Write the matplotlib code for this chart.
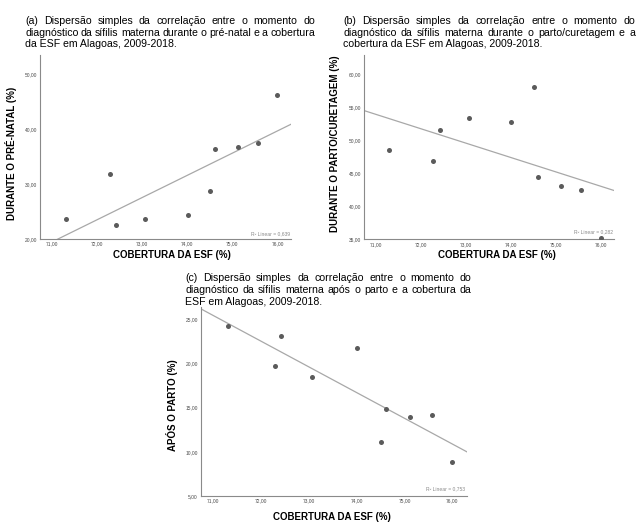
import numpy as np
import matplotlib
matplotlib.use('Agg')
import matplotlib.pyplot as plt
import matplotlib.ticker as ticker

plt.rcParams['font.family'] = ['Liberation Sans', 'DejaVu Sans']

# cobertura da ESF (%) por ano, 2009-2018
cobertura = [71.30, 72.28, 72.42, 73.07, 74.01, 74.51, 74.61, 75.12, 75.57, 76.00]
pre_natal = [23.6, 31.8, 22.5, 23.6, 24.4, 28.7, 36.4, 36.8, 37.5, 46.2]
parto_curetagem = [48.5, 46.9, 51.6, 53.4, 52.7, 58.0, 44.5, 43.1, 42.4, 35.15]
apos_parto = [24.2, 19.7, 23.1, 18.5, 21.8, 11.1, 14.85, 14.0, 14.2, 8.8]

r2_labels = ['R² Linear = 0,639', 'R² Linear = 0,282', 'R² Linear = 0,753']
y_labels = ['DURANTE O PRÉ-NATAL (%)', 'DURANTE O PARTO/CURETAGEM (%)', 'APÓS O PARTO (%)']
x_label = 'COBERTURA DA ESF (%)'

titles = [
    ["(a) Dispersão simples da correlação entre o momento do",
     "diagnóstico da sífilis materna durante o pré-natal e a cobertura",
     "da ESF em Alagoas, 2009-2018."],
    ["(b) Dispersão simples da correlação entre o momento do",
     "diagnóstico da sífilis materna durante o parto/curetagem e a",
     "cobertura da ESF em Alagoas, 2009-2018."],
    ["(c) Dispersão simples da correlação entre o momento do",
     "diagnóstico da sífilis materna após o parto e a cobertura da",
     "ESF em Alagoas, 2009-2018."],
]

W, H = 640, 525
fig = plt.figure(figsize=(W / 100, H / 100), dpi=100)
renderer = fig.canvas.get_renderer()


def justified(lines, x0, x1, y0, step, size=7.6):
    for i, line in enumerate(lines):
        y = 1 - (y0 + i * step) / H
        words = line.split(' ')
        if i == len(lines) - 1:
            fig.text(x0 / W, y, line, fontsize=size, va='center', ha='left')
            continue
        objs = [fig.text(0, y, w, fontsize=size, va='center', ha='left') for w in words]
        widths = [t.get_window_extent(renderer).width for t in objs]
        gap = (x1 - x0 - sum(widths)) / (len(words) - 1)
        x = x0
        for t, w in zip(objs, widths):
            t.set_x(x / W)
            x += w + gap


# pixel boxes: left, right, top, bottom
boxes = [(40, 291, 55, 239), (363.7, 614.3, 55, 239.3), (200.5, 466.7, 307, 496)]
ylims = [(20, 53.5), (35, 62.9), (5, 26.4)]
yticks = [[20, 30, 40, 50], [35, 40, 45, 50, 55, 60], [5, 10, 15, 20, 25]]
series = [pre_natal, parto_curetagem, apos_parto]
xlab_pos = [(0.526, -0.087), (0.532, -0.087), (0.493, -0.11)]
ylab_pos = [(-0.1155, 0.467), (-0.1145, 0.517), (-0.107, 0.481)]
r2_y = [5, 7.5, 7]

fmt = ticker.FuncFormatter(lambda v, p: f'{v:.2f}'.replace('.', ','))

for k in range(3):
    l, r, t, b = boxes[k]
    ax = fig.add_axes([l / W, 1 - b / H, (r - l) / W, (b - t) / H])
    x = np.array(cobertura)
    y = np.array(series[k])
    ax.scatter(x, y, s=13, color='#5b5b5b', zorder=3, linewidths=0)
    slope, icpt = np.polyfit(x, y, 1)
    xx = np.array([70.73, 76.3])
    ax.plot(xx, slope * xx + icpt, color='#a8a8a8', lw=0.9, zorder=2)
    ax.set_xlim(70.73, 76.3)
    ax.set_ylim(*ylims[k])
    ax.set_xticks([71, 72, 73, 74, 75, 76])
    ax.set_yticks(yticks[k])
    ax.xaxis.set_major_formatter(fmt)
    ax.yaxis.set_major_formatter(fmt)
    ax.tick_params(length=0, labelsize=3.5, labelcolor='#4a4a4a', pad=2)
    for s in ['top', 'right']:
        ax.spines[s].set_visible(False)
    for s in ['left', 'bottom']:
        ax.spines[s].set_color('#8a8a8a')
        ax.spines[s].set_linewidth(0.8)
    ax.text(xlab_pos[k][0], xlab_pos[k][1], x_label, transform=ax.transAxes,
            ha='center', va='center', fontsize=7, fontweight='bold')
    ax.text(ylab_pos[k][0], ylab_pos[k][1], y_labels[k], transform=ax.transAxes,
            ha='center', va='center', fontsize=7, fontweight='bold', rotation=90)
    ax.text(0.995, r2_y[k] / (b - t), r2_labels[k], transform=ax.transAxes,
            ha='right', va='center', fontsize=3.6, color='#8a8a8a')

justified(titles[0], 25, 315, 21, 11.6)
justified(titles[1], 343, 635, 21, 11.6)
justified(titles[2], 185, 471.7, 278, 12)

fig.savefig('out.png', dpi=100, facecolor='white')
